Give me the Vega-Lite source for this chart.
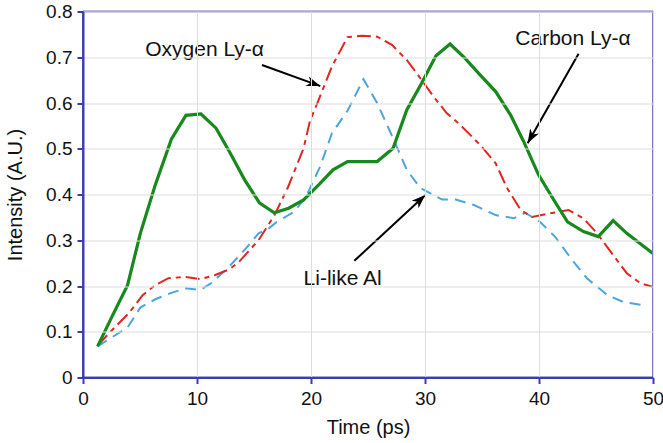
{
  "$schema": "https://vega.github.io/schema/vega-lite/v6.json",
  "width": 570,
  "height": 366,
  "autosize": {"type": "none"},
  "padding": {"left": 83, "top": 11.5, "right": 10, "bottom": 65.5},
  "config": {
    "view": {"stroke": null},
    "font": "Liberation Sans"
  },
  "data": {"values": [
      {"series": "Li-like Al", "t": 1.28, "v": 0.068},
      {"series": "Li-like Al", "t": 2.54, "v": 0.088},
      {"series": "Li-like Al", "t": 3.9, "v": 0.109},
      {"series": "Li-like Al", "t": 5.03, "v": 0.153},
      {"series": "Li-like Al", "t": 6.34, "v": 0.171},
      {"series": "Li-like Al", "t": 7.75, "v": 0.185},
      {"series": "Li-like Al", "t": 9.03, "v": 0.195},
      {"series": "Li-like Al", "t": 10.29, "v": 0.191},
      {"series": "Li-like Al", "t": 11.3, "v": 0.207},
      {"series": "Li-like Al", "t": 12.8, "v": 0.242},
      {"series": "Li-like Al", "t": 14.18, "v": 0.279},
      {"series": "Li-like Al", "t": 15.4, "v": 0.315},
      {"series": "Li-like Al", "t": 16.3, "v": 0.326},
      {"series": "Li-like Al", "t": 17.0, "v": 0.34},
      {"series": "Li-like Al", "t": 18.5, "v": 0.362},
      {"series": "Li-like Al", "t": 19.5, "v": 0.392},
      {"series": "Li-like Al", "t": 20.8, "v": 0.461},
      {"series": "Li-like Al", "t": 21.84, "v": 0.534},
      {"series": "Li-like Al", "t": 23.2, "v": 0.583},
      {"series": "Li-like Al", "t": 24.6, "v": 0.652},
      {"series": "Li-like Al", "t": 25.8, "v": 0.6},
      {"series": "Li-like Al", "t": 27.2, "v": 0.523},
      {"series": "Li-like Al", "t": 28.4, "v": 0.454},
      {"series": "Li-like Al", "t": 29.6, "v": 0.414},
      {"series": "Li-like Al", "t": 30.75, "v": 0.399},
      {"series": "Li-like Al", "t": 31.5, "v": 0.389},
      {"series": "Li-like Al", "t": 32.7, "v": 0.389},
      {"series": "Li-like Al", "t": 34.3, "v": 0.377},
      {"series": "Li-like Al", "t": 36.2, "v": 0.355},
      {"series": "Li-like Al", "t": 37.8, "v": 0.348},
      {"series": "Li-like Al", "t": 38.8, "v": 0.36},
      {"series": "Li-like Al", "t": 40.1, "v": 0.34},
      {"series": "Li-like Al", "t": 41.4, "v": 0.308},
      {"series": "Li-like Al", "t": 42.9, "v": 0.257},
      {"series": "Li-like Al", "t": 44.2, "v": 0.217},
      {"series": "Li-like Al", "t": 46.0, "v": 0.18},
      {"series": "Li-like Al", "t": 47.4, "v": 0.165},
      {"series": "Li-like Al", "t": 49.2, "v": 0.158},
      {"series": "Oxygen Ly-α", "t": 1.28, "v": 0.07},
      {"series": "Oxygen Ly-α", "t": 2.6, "v": 0.105},
      {"series": "Oxygen Ly-α", "t": 4.0, "v": 0.14},
      {"series": "Oxygen Ly-α", "t": 5.23, "v": 0.18},
      {"series": "Oxygen Ly-α", "t": 6.34, "v": 0.202},
      {"series": "Oxygen Ly-α", "t": 7.5, "v": 0.217},
      {"series": "Oxygen Ly-α", "t": 8.97, "v": 0.22},
      {"series": "Oxygen Ly-α", "t": 10.29, "v": 0.215},
      {"series": "Oxygen Ly-α", "t": 11.6, "v": 0.224},
      {"series": "Oxygen Ly-α", "t": 12.8, "v": 0.236},
      {"series": "Oxygen Ly-α", "t": 13.65, "v": 0.252},
      {"series": "Oxygen Ly-α", "t": 15.4, "v": 0.3},
      {"series": "Oxygen Ly-α", "t": 16.8, "v": 0.355},
      {"series": "Oxygen Ly-α", "t": 18.0, "v": 0.417},
      {"series": "Oxygen Ly-α", "t": 19.35, "v": 0.501},
      {"series": "Oxygen Ly-α", "t": 19.9, "v": 0.56},
      {"series": "Oxygen Ly-α", "t": 20.67, "v": 0.607},
      {"series": "Oxygen Ly-α", "t": 21.84, "v": 0.68},
      {"series": "Oxygen Ly-α", "t": 23.2, "v": 0.744},
      {"series": "Oxygen Ly-α", "t": 24.47, "v": 0.747},
      {"series": "Oxygen Ly-α", "t": 25.8, "v": 0.745},
      {"series": "Oxygen Ly-α", "t": 27.1, "v": 0.727},
      {"series": "Oxygen Ly-α", "t": 28.4, "v": 0.694},
      {"series": "Oxygen Ly-α", "t": 29.6, "v": 0.654},
      {"series": "Oxygen Ly-α", "t": 30.75, "v": 0.614},
      {"series": "Oxygen Ly-α", "t": 31.9, "v": 0.578},
      {"series": "Oxygen Ly-α", "t": 33.1, "v": 0.552},
      {"series": "Oxygen Ly-α", "t": 34.85, "v": 0.508},
      {"series": "Oxygen Ly-α", "t": 36.2, "v": 0.468},
      {"series": "Oxygen Ly-α", "t": 37.2, "v": 0.414},
      {"series": "Oxygen Ly-α", "t": 38.4, "v": 0.366},
      {"series": "Oxygen Ly-α", "t": 39.4, "v": 0.351},
      {"series": "Oxygen Ly-α", "t": 41.0, "v": 0.359},
      {"series": "Oxygen Ly-α", "t": 42.6, "v": 0.366},
      {"series": "Oxygen Ly-α", "t": 43.9, "v": 0.348},
      {"series": "Oxygen Ly-α", "t": 45.1, "v": 0.315},
      {"series": "Oxygen Ly-α", "t": 46.5, "v": 0.268},
      {"series": "Oxygen Ly-α", "t": 47.7, "v": 0.228},
      {"series": "Oxygen Ly-α", "t": 48.9, "v": 0.206},
      {"series": "Oxygen Ly-α", "t": 50.0, "v": 0.198},
      {"series": "Carbon Ly-α", "t": 1.28, "v": 0.068},
      {"series": "Carbon Ly-α", "t": 2.54, "v": 0.133},
      {"series": "Carbon Ly-α", "t": 3.91, "v": 0.202},
      {"series": "Carbon Ly-α", "t": 5.03, "v": 0.315},
      {"series": "Carbon Ly-α", "t": 6.34, "v": 0.421},
      {"series": "Carbon Ly-α", "t": 7.75, "v": 0.521},
      {"series": "Carbon Ly-α", "t": 9.03, "v": 0.573},
      {"series": "Carbon Ly-α", "t": 10.35, "v": 0.576},
      {"series": "Carbon Ly-α", "t": 11.67, "v": 0.545},
      {"series": "Carbon Ly-α", "t": 12.92, "v": 0.49},
      {"series": "Carbon Ly-α", "t": 14.18, "v": 0.432},
      {"series": "Carbon Ly-α", "t": 15.47, "v": 0.382},
      {"series": "Carbon Ly-α", "t": 16.78, "v": 0.36},
      {"series": "Carbon Ly-α", "t": 18.04, "v": 0.37},
      {"series": "Carbon Ly-α", "t": 19.35, "v": 0.388},
      {"series": "Carbon Ly-α", "t": 20.67, "v": 0.421},
      {"series": "Carbon Ly-α", "t": 21.93, "v": 0.454},
      {"series": "Carbon Ly-α", "t": 23.2, "v": 0.472},
      {"series": "Carbon Ly-α", "t": 25.8, "v": 0.472},
      {"series": "Carbon Ly-α", "t": 27.2, "v": 0.501},
      {"series": "Carbon Ly-α", "t": 28.4, "v": 0.585},
      {"series": "Carbon Ly-α", "t": 29.7, "v": 0.643},
      {"series": "Carbon Ly-α", "t": 30.96, "v": 0.703},
      {"series": "Carbon Ly-α", "t": 32.2, "v": 0.729},
      {"series": "Carbon Ly-α", "t": 33.5, "v": 0.698},
      {"series": "Carbon Ly-α", "t": 34.85, "v": 0.661},
      {"series": "Carbon Ly-α", "t": 36.2, "v": 0.625},
      {"series": "Carbon Ly-α", "t": 37.5, "v": 0.574},
      {"series": "Carbon Ly-α", "t": 38.65, "v": 0.516},
      {"series": "Carbon Ly-α", "t": 39.96, "v": 0.443},
      {"series": "Carbon Ly-α", "t": 41.3, "v": 0.388},
      {"series": "Carbon Ly-α", "t": 42.5, "v": 0.34},
      {"series": "Carbon Ly-α", "t": 43.9, "v": 0.319},
      {"series": "Carbon Ly-α", "t": 45.2, "v": 0.308},
      {"series": "Carbon Ly-α", "t": 46.5, "v": 0.343},
      {"series": "Carbon Ly-α", "t": 47.7, "v": 0.315},
      {"series": "Carbon Ly-α", "t": 50.0, "v": 0.271}
  ]},
  "layer": [
    {
      "transform": [{"filter": "datum.series == 'Li-like Al'"}],
      "mark": {"type": "line", "color": "#4aa6dd", "strokeWidth": 2, "strokeDash": [11, 7]},
      "encoding": {
        "x": {
          "field": "t", "type": "quantitative", "title": "Time (ps)",
          "scale": {"domain": [0, 50], "nice": false, "zero": false},
          "axis": {
            "tickCount": 5, "zindex": 1,
            "domainColor": "#3c3cab", "domainWidth": 2,
            "tickColor": "#3c3cab", "tickWidth": 2, "tickSize": 6,
            "labelFontSize": 19, "labelColor": "#111", "labelFont": "Liberation Sans", "labelFlush": false, "labelPadding": 6,
            "titleFontSize": 20, "titleFontWeight": "normal", "titleColor": "#111", "titleFont": "Liberation Sans", "titlePadding": 9
          }
        },
        "y": {
          "field": "v", "type": "quantitative", "title": "Intensity (A.U.)",
          "scale": {"domain": [0, 0.8], "nice": false},
          "axis": {
            "tickCount": 8, "zindex": 1,
            "labelExpr": "datum.value == 0 ? '0' : format(datum.value, '.1f')",
            "domainColor": "#3c3cab", "domainWidth": 2,
            "tickColor": "#3c3cab", "tickWidth": 2, "tickSize": 6,
            "labelFontSize": 19, "labelColor": "#111", "labelFont": "Liberation Sans", "labelFlush": false, "labelPadding": 5,
            "titleFontSize": 20, "titleFontWeight": "normal", "titleColor": "#111", "titleFont": "Liberation Sans", "titlePadding": 20
          }
        }
      }
    },
    {
      "transform": [{"filter": "datum.series == 'Oxygen Ly-α'"}],
      "mark": {"type": "line", "color": "#e1261f", "strokeWidth": 2, "strokeDash": [14, 5, 5, 5]},
      "encoding": {
        "x": {"field": "t", "type": "quantitative"},
        "y": {"field": "v", "type": "quantitative"}
      }
    },
    {
      "transform": [{"filter": "datum.series == 'Carbon Ly-α'"}],
      "mark": {"type": "line", "color": "#17891d", "strokeWidth": 3.2},
      "encoding": {
        "x": {"field": "t", "type": "quantitative"},
        "y": {"field": "v", "type": "quantitative"}
      }
    },
    {
      "data": {"values": [{"edge": "frame"}]},
      "layer": [
        {
          "mark": {"type": "rule", "color": "#7b7bc4", "strokeWidth": 2},
          "encoding": {
            "x": {"datum": 0, "type": "quantitative"},
            "x2": {"datum": 50},
            "y": {"datum": 0.8, "type": "quantitative"}
          }
        },
        {
          "mark": {"type": "rule", "color": "#7b7bc4", "strokeWidth": 2},
          "encoding": {
            "x": {"datum": 50, "type": "quantitative"},
            "y": {"datum": 0, "type": "quantitative"},
            "y2": {"datum": 0.8}
          }
        },
        {
          "mark": {"type": "rule", "color": "#5454b6", "strokeWidth": 2},
          "encoding": {
            "x": {"datum": 0, "type": "quantitative"},
            "y": {"datum": 0, "type": "quantitative"},
            "y2": {"datum": 0.8}
          }
        },
        {
          "mark": {"type": "rule", "color": "#5454b6", "strokeWidth": 2},
          "encoding": {
            "x": {"datum": 0, "type": "quantitative"},
            "x2": {"datum": 50},
            "y": {"datum": 0, "type": "quantitative"}
          }
        }
      ]
    },
    {
      "data": {"values": [
        {"label": "Oxygen Ly-α", "x": 5.46, "y": 0.703, "ax": 15.7, "ay": 0.683, "tx": 20.82, "ty": 0.637},
        {"label": "Carbon Ly-α", "x": 37.92, "y": 0.727, "ax": 43.47, "ay": 0.7075, "tx": 39.0, "ty": 0.512},
        {"label": "Li-like Al", "x": 19.35, "y": 0.202, "ax": 23.8, "ay": 0.255, "tx": 30.03, "ty": 0.399}
      ]},
      "layer": [
        {
          "mark": {"type": "rule", "color": "black", "strokeWidth": 2},
          "encoding": {
            "x": {"field": "ax", "type": "quantitative"},
            "y": {"field": "ay", "type": "quantitative"},
            "x2": {"field": "tx"},
            "y2": {"field": "ty"}
          }
        },
        {
          "transform": [{"filter": "datum.label == 'Oxygen Ly-α'"}],
          "mark": {"type": "point", "shape": "M0,0L-0.36,1L0,0.72L0.36,1Z", "filled": true, "color": "black", "opacity": 1, "size": 784, "angle": 109.8},
          "encoding": {
            "x": {"field": "tx", "type": "quantitative"},
            "y": {"field": "ty", "type": "quantitative"}
          }
        },
        {
          "transform": [{"filter": "datum.label == 'Carbon Ly-α'"}],
          "mark": {"type": "point", "shape": "M0,0L-0.36,1L0,0.72L0.36,1Z", "filled": true, "color": "black", "opacity": 1, "size": 784, "angle": 209.7},
          "encoding": {
            "x": {"field": "tx", "type": "quantitative"},
            "y": {"field": "ty", "type": "quantitative"}
          }
        },
        {
          "transform": [{"filter": "datum.label == 'Li-like Al'"}],
          "mark": {"type": "point", "shape": "M0,0L-0.36,1L0,0.72L0.36,1Z", "filled": true, "color": "black", "opacity": 1, "size": 784, "angle": 47.2},
          "encoding": {
            "x": {"field": "tx", "type": "quantitative"},
            "y": {"field": "ty", "type": "quantitative"}
          }
        },
        {
          "mark": {"type": "text", "align": "left", "baseline": "alphabetic", "fontSize": 21, "font": "Liberation Sans", "color": "#111"},
          "encoding": {
            "x": {"field": "x", "type": "quantitative"},
            "y": {"field": "y", "type": "quantitative"},
            "text": {"field": "label"}
          }
        }
      ]
    }
  ]
}
